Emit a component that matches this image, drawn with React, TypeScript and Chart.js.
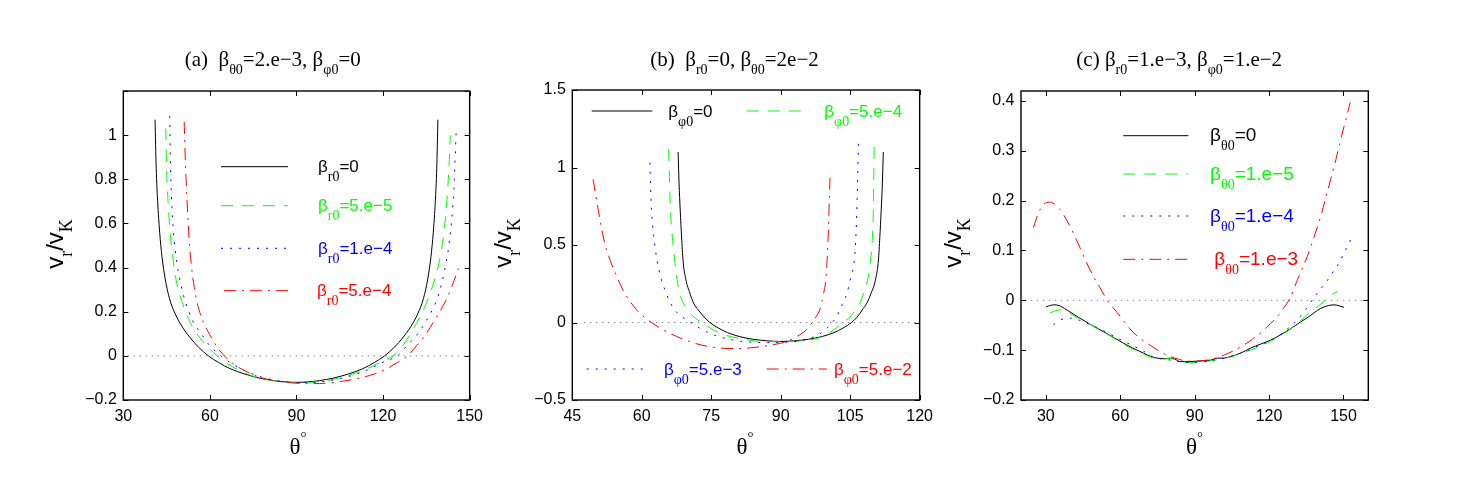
import React, { useEffect, useRef } from 'react';
import { Chart, registerables } from 'chart.js';

Chart.register(...registerables);

const SANS = '"Liberation Sans", Arial, Helvetica, sans-serif';
const SERIF = '"Liberation Serif", "Times New Roman", Times, serif';

// ---------- (a) beta_theta0 = 2.e-3, beta_phi0 = 0 ----------
const aBlackTheta = [41.0, 41.4, 41.9, 42.6, 43.4, 44.5, 46.0, 48.0, 50.5, 53.0, 56.0, 59.5, 63, 67, 72, 77, 82, 86, 90, 94, 98, 103, 108, 113, 117, 120.5, 124, 127, 129.5, 132, 134, 135.5, 136.6, 137.4, 138.1, 138.6, 139.0];
const aBlackV = [1.07, 0.85, 0.70, 0.56, 0.45, 0.35, 0.26, 0.19, 0.13, 0.085, 0.04, 0.0, -0.03, -0.058, -0.082, -0.1, -0.112, -0.118, -0.12, -0.118, -0.112, -0.1, -0.082, -0.058, -0.03, 0.0, 0.04, 0.085, 0.13, 0.19, 0.26, 0.35, 0.45, 0.56, 0.70, 0.85, 1.07];
const aGreenTheta = [44.7, 45.0, 45.5, 46.3, 47.3, 48.5, 50.2, 52.5, 55.5, 58.5, 62.5, 66, 70, 75, 80, 85, 90, 95, 100, 105, 110, 115, 119.5, 123.5, 126.5, 129.5, 132.5, 135, 137, 139, 140.8, 142.1, 142.8, 143.3];
const aGreenV = [1.03, 0.85, 0.70, 0.55, 0.43, 0.33, 0.25, 0.17, 0.1, 0.05, 0.0, -0.035, -0.065, -0.092, -0.108, -0.117, -0.121, -0.12, -0.113, -0.1, -0.08, -0.055, -0.025, 0.0, 0.04, 0.1, 0.17, 0.24, 0.31, 0.40, 0.53, 0.70, 0.85, 1.0];
const aBlueTheta = [46.1, 46.3, 46.7, 47.4, 48.6, 50, 51.5, 54, 57, 60, 63.8, 67, 71, 76, 81, 86, 91, 96, 101, 106, 111, 116, 120.5, 125, 128.5, 132, 135, 137.5, 139.3, 141.2, 142.8, 144, 144.7, 145.3];
const aBlueV = [1.086, 0.9, 0.72, 0.56, 0.42, 0.32, 0.245, 0.16, 0.1, 0.045, 0.0, -0.03, -0.06, -0.088, -0.106, -0.117, -0.121, -0.12, -0.113, -0.1, -0.082, -0.055, -0.025, 0.0, 0.05, 0.1, 0.16, 0.22, 0.28, 0.38, 0.5, 0.65, 0.8, 1.01];
const aRedTheta = [51.1, 51.5, 52.1, 52.8, 53.5, 54.6, 55.6, 57.5, 60, 62.5, 65, 68.5, 72.5, 77, 82, 88, 94, 100, 106, 112, 117, 121, 125, 128.6, 131.5, 134.9, 138, 141.8, 144, 146.1];
const aRedV = [1.06, 0.88, 0.70, 0.53, 0.42, 0.31, 0.24, 0.16, 0.095, 0.04, 0.0, -0.04, -0.07, -0.095, -0.112, -0.122, -0.126, -0.124, -0.115, -0.1, -0.082, -0.06, -0.03, 0.0, 0.045, 0.1, 0.165, 0.252, 0.32, 0.396];
const aZeroTheta = [31.5, 150];

// ---------- (b) beta_r0 = 0, beta_theta0 = 2e-2 ----------
const bBlackTheta = [67.85, 68.05, 68.3, 68.6, 68.9, 69.5, 70.4, 71.2, 72.2, 73.5, 74.7, 76.5, 78.5, 81, 84, 87, 90, 93, 96, 99, 101.5, 103.5, 105.3, 106.5, 107.6, 108.6, 109.5, 110.5, 111.1, 111.4, 111.7, 111.95, 112.15];
const bBlackV = [1.10, 0.9, 0.726, 0.55, 0.403, 0.28, 0.188, 0.125, 0.081, 0.035, 0.0, -0.035, -0.065, -0.09, -0.108, -0.118, -0.122, -0.118, -0.108, -0.09, -0.065, -0.035, 0.0, 0.035, 0.081, 0.125, 0.188, 0.28, 0.403, 0.55, 0.726, 0.9, 1.10];
const bGreenTheta = [65.8, 66.0, 66.2, 66.6, 67.1, 67.6, 68.2, 69, 70, 71.3, 72.9, 75, 77.5, 80.5, 84, 87.5, 90.5, 94, 97, 99.5, 101.6, 103.4, 104.9, 106.2, 107.1, 107.9, 108.8, 109.4, 109.8, 110.0, 110.1, 110.2];
const bGreenV = [1.117, 0.9, 0.726, 0.55, 0.403, 0.28, 0.188, 0.125, 0.081, 0.035, 0.0, -0.04, -0.075, -0.1, -0.117, -0.124, -0.125, -0.12, -0.108, -0.085, -0.045, 0.0, 0.035, 0.081, 0.125, 0.188, 0.28, 0.403, 0.55, 0.726, 0.95, 1.188];
const bBlueTheta = [61.75, 61.9, 62.1, 62.6, 63.3, 64.2, 65.3, 66.2, 67.1, 68.8, 70.6, 73, 76, 79.5, 83, 87, 90.5, 94, 97, 99.3, 101.1, 102.1, 102.7, 103.5, 104.3, 105.2, 105.9, 106.3, 106.5, 106.8];
const bBlueV = [1.031, 0.88, 0.726, 0.55, 0.403, 0.28, 0.188, 0.125, 0.081, 0.035, 0.0, -0.045, -0.085, -0.112, -0.126, -0.13, -0.128, -0.118, -0.095, -0.055, 0.0, 0.04, 0.081, 0.13, 0.188, 0.3, 0.403, 0.6, 0.8, 1.177];
const bRedTheta = [49.5, 50.6, 52.0, 53.2, 54.6, 56.5, 58.9, 60.5, 62.1, 64.5, 67.5, 71, 75, 79, 83, 88, 91, 93.5, 95.5, 96.8, 97.7, 98.4, 99.2, 99.8, 100.1, 100.3, 100.5, 100.7];
const bRedV = [0.924, 0.726, 0.511, 0.4, 0.296, 0.18, 0.081, 0.035, 0.0, -0.045, -0.09, -0.13, -0.158, -0.168, -0.165, -0.145, -0.125, -0.09, -0.048, 0.0, 0.04, 0.081, 0.18, 0.296, 0.45, 0.6, 0.8, 0.973];
const bZeroTheta = [47.5, 120];

// ---------- (c) beta_r0 = 1.e-3, beta_phi0 = 1.e-2 ----------
const cBlackTheta = [30.1, 32, 33.7, 36, 39, 43.8, 48.5, 53.3, 57.5, 61.3, 65.5, 69.4, 72.5, 75, 78, 80.2, 82, 84.2, 87, 90.9, 94, 96.4, 99.1, 101.5, 104.4, 108.5, 112.5, 116.5, 120.6, 124.7, 128.7, 132.8, 136.8, 139.5, 142.1, 144, 146.2, 148.3, 150.2];
const cBlackV = [-0.0135, -0.01, -0.009, -0.012, -0.021, -0.036, -0.05, -0.063, -0.075, -0.086, -0.097, -0.106, -0.113, -0.116, -0.117, -0.116, -0.118, -0.123, -0.123, -0.122, -0.121, -0.12, -0.116, -0.116, -0.113, -0.106, -0.096, -0.088, -0.08, -0.069, -0.057, -0.043, -0.03, -0.02, -0.0135, -0.0105, -0.009, -0.011, -0.014];
const cGreenTheta = [31.7, 33.5, 35.8, 38, 41, 44, 48.5, 53.3, 57.5, 61.3, 65.5, 69.4, 73, 77, 80.2, 84, 88, 92, 96, 100, 104.4, 108.5, 112.5, 116.5, 120.6, 124.7, 128.7, 132.8, 136.8, 140.8, 144.2, 147.6];
const cGreenV = [-0.026, -0.022, -0.019, -0.022, -0.03, -0.038, -0.05, -0.064, -0.076, -0.088, -0.099, -0.108, -0.115, -0.118, -0.117, -0.122, -0.125, -0.124, -0.122, -0.118, -0.114, -0.107, -0.1, -0.092, -0.082, -0.07, -0.058, -0.04, -0.022, -0.008, 0.008, 0.018];
const cBlueTheta = [33.1, 35, 37.1, 40, 43.5, 48, 53.3, 57.5, 61.3, 65.5, 69.4, 73, 77, 80.5, 84, 88, 92, 96, 100, 104.4, 108.5, 112.5, 116.5, 120.6, 124.7, 128, 131.4, 134.5, 137.4, 140, 142.8, 145.5, 148.2, 150.5, 152.9];
const cBlueV = [-0.049, -0.042, -0.037, -0.036, -0.04, -0.049, -0.061, -0.072, -0.082, -0.092, -0.102, -0.113, -0.118, -0.12, -0.123, -0.125, -0.124, -0.121, -0.118, -0.113, -0.106, -0.098, -0.09, -0.08, -0.068, -0.055, -0.039, -0.02, 0.001, 0.018, 0.035, 0.055, 0.075, 0.098, 0.122];
const cRedTheta = [25.0, 27, 29.3, 31.4, 33.5, 35.8, 38.5, 41.1, 43.8, 46.5, 49.2, 51.9, 54.6, 57.3, 60, 63, 66, 70.8, 75.5, 80.2, 83.5, 86.9, 91, 95, 98.5, 101.7, 105.8, 109.8, 113.8, 117.9, 120.5, 123.3, 125.8, 128.3, 131.5, 135.4, 138, 140.8, 142.8, 144.8, 146.9, 148.9, 150.8, 152.7];
const cRedV = [0.146, 0.175, 0.193, 0.197, 0.193, 0.182, 0.16, 0.135, 0.105, 0.075, 0.048, 0.025, 0.001, -0.016, -0.032, -0.052, -0.068, -0.086, -0.101, -0.113, -0.118, -0.122, -0.122, -0.12, -0.116, -0.11, -0.101, -0.09, -0.076, -0.06, -0.047, -0.033, -0.016, 0.003, 0.042, 0.088, 0.125, 0.168, 0.205, 0.242, 0.282, 0.323, 0.36, 0.397];
const cZeroTheta = [21.5, 159.5];

// axis ranges and tick steps
const aXTicks = { min: 30, max: 150, step: 30 };
const aYTicks = { min: -0.2, max: 1.2, step: 0.2, lastLabel: 1.0 };
const bXTicks = { min: 45, max: 120, step: 15 };
const bYTicks = { min: -0.5, max: 1.5, step: 0.5, lastLabel: 1.5 };
const cXTicks = { min: 20, max: 160, step: 30 };
const cYTicks = { min: -0.2, max: 0.42, step: 0.1, lastLabel: 0.4 };

type Seg = { t: string; f: string; dy?: number };
type StyleKey = 'black' | 'green' | 'blue' | 'red';

const STYLES: Record<StyleKey, { color: string; dash: number[] }> = {
  black: { color: '#000000', dash: [] },
  green: { color: '#00ff00', dash: [12, 9] },
  blue: { color: '#0000ff', dash: [2, 7] },
  red: { color: '#ff0000', dash: [12, 6, 2, 6] },
};

const px = (size: number, family: string) => `${size}px ${family}`;

function richWidth(ctx: CanvasRenderingContext2D, segs: Seg[]) {
  let w = 0;
  for (const s of segs) {
    ctx.font = s.f;
    w += ctx.measureText(s.t).width;
  }
  return w;
}

function drawRich(
  ctx: CanvasRenderingContext2D,
  segs: Seg[],
  x: number,
  y: number,
  align: 'left' | 'center',
  color: string
) {
  ctx.save();
  ctx.fillStyle = color;
  ctx.textBaseline = 'alphabetic';
  ctx.textAlign = 'left';
  let cx = align === 'center' ? x - richWidth(ctx, segs) / 2 : x;
  for (const s of segs) {
    ctx.font = s.f;
    ctx.fillText(s.t, cx, y + (s.dy || 0));
    cx += ctx.measureText(s.t).width;
  }
  ctx.restore();
}

// "beta_sub=value" legend label
function betaLabel(sub: string, value: string, size: number): Seg[] {
  return [
    { t: 'β', f: px(size, SANS) },
    { t: sub, f: px(14, SERIF), dy: 9 },
    { t: value, f: px(size, SANS) },
  ];
}

const TITLE = 21;
const TSUB = 14;
const titleA: Seg[] = [
  { t: '(a)  β', f: px(TITLE, SERIF) },
  { t: 'θ0', f: px(TSUB, SERIF), dy: 8 },
  { t: '=2.e−3, β', f: px(TITLE, SERIF) },
  { t: 'φ0', f: px(TSUB, SERIF), dy: 8 },
  { t: '=0', f: px(TITLE, SERIF) },
];
const titleB: Seg[] = [
  { t: '(b)  β', f: px(TITLE, SERIF) },
  { t: 'r0', f: px(TSUB, SERIF), dy: 8 },
  { t: '=0, β', f: px(TITLE, SERIF) },
  { t: 'θ0', f: px(TSUB, SERIF), dy: 8 },
  { t: '=2e−2', f: px(TITLE, SERIF) },
];
const titleC: Seg[] = [
  { t: '(c) β', f: px(TITLE, SERIF) },
  { t: 'r0', f: px(TSUB, SERIF), dy: 8 },
  { t: '=1.e−3, β', f: px(TITLE, SERIF) },
  { t: 'φ0', f: px(TSUB, SERIF), dy: 8 },
  { t: '=1.e−2', f: px(TITLE, SERIF) },
];

const yLabel: Seg[] = [
  { t: 'v', f: px(24, SANS) },
  { t: 'r', f: px(18, SERIF), dy: 9 },
  { t: '/v', f: px(24, SANS) },
  { t: 'K', f: px(18, SERIF), dy: 9 },
];
const xLabel: Seg[] = [
  { t: 'θ', f: px(23, SERIF) },
  { t: '°', f: px(15, SERIF), dy: -12 },
];

interface LegendItem { style: StyleKey; text: Seg[]; x0: number; x1: number; tx: number; y: number }
interface Series { theta: number[]; v: number[]; style: StyleKey }
interface Panel {
  left: number;
  width: number;
  area: { l: number; r: number; t: number; b: number };
  xt: { min: number; max: number; step: number };
  yt: { min: number; max: number; step: number; lastLabel: number };
  title: Seg[];
  titleX: number;
  yLab: { x: number; y: number };
  xLabX: number;
  legend: LegendItem[];
  series: Series[];
  zero: number[];
}

const PANELS: Panel[] = [
  {
    left: 0,
    width: 490,
    area: { l: 123.3, r: 472.3, t: 91, b: 400 },
    xt: aXTicks,
    yt: aYTicks,
    title: titleA,
    titleX: 272.7,
    yLab: { x: 62.5, y: 244 },
    xLabX: 298,
    legend: [
      { style: 'black', text: betaLabel('r0', '=0', 17), x0: 221, x1: 288, tx: 318, y: 166.7 },
      { style: 'green', text: betaLabel('r0', '=5.e−5', 17), x0: 221, x1: 288, tx: 318, y: 205.7 },
      { style: 'blue', text: betaLabel('r0', '=1.e−4', 17), x0: 221, x1: 288, tx: 318, y: 248.3 },
      { style: 'red', text: betaLabel('r0', '=5.e−4', 17), x0: 224, x1: 288, tx: 317, y: 290.7 },
    ],
    series: [
      { theta: aBlackTheta, v: aBlackV, style: 'black' },
      { theta: aGreenTheta, v: aGreenV, style: 'green' },
      { theta: aBlueTheta, v: aBlueV, style: 'blue' },
      { theta: aRedTheta, v: aRedV, style: 'red' },
    ],
    zero: aZeroTheta,
  },
  {
    left: 490,
    width: 450,
    area: { l: 572.3, r: 920.3, t: 90, b: 400 },
    xt: bXTicks,
    yt: bYTicks,
    title: titleB,
    titleX: 734.5,
    yLab: { x: 511, y: 243 },
    xLabX: 745,
    legend: [
      { style: 'black', text: betaLabel('φ0', '=0', 17), x0: 591.7, x1: 652.3, tx: 668.3, y: 111 },
      { style: 'green', text: betaLabel('φ0', '=5.e−4', 17), x0: 746.7, x1: 810, tx: 824.3, y: 111 },
      { style: 'blue', text: betaLabel('φ0', '=5.e−3', 17), x0: 586.7, x1: 646.7, tx: 664, y: 369 },
      { style: 'red', text: betaLabel('φ0', '=5.e−2', 17), x0: 766.7, x1: 826.7, tx: 834, y: 369 },
    ],
    series: [
      { theta: bBlackTheta, v: bBlackV, style: 'black' },
      { theta: bGreenTheta, v: bGreenV, style: 'green' },
      { theta: bBlueTheta, v: bBlueV, style: 'blue' },
      { theta: bRedTheta, v: bRedV, style: 'red' },
    ],
    zero: bZeroTheta,
  },
  {
    left: 940,
    width: 531,
    area: { l: 1021, r: 1368.3, t: 91, b: 400 },
    xt: cXTicks,
    yt: cYTicks,
    title: titleC,
    titleX: 1179.2,
    yLab: { x: 961, y: 243 },
    xLabX: 1194.5,
    legend: [
      { style: 'black', text: betaLabel('θ0', '=0', 19), x0: 1123.3, x1: 1188.3, tx: 1210, y: 135.7 },
      { style: 'green', text: betaLabel('θ0', '=1.e−5', 19), x0: 1123.3, x1: 1188.3, tx: 1210, y: 174 },
      { style: 'blue', text: betaLabel('θ0', '=1.e−4', 19), x0: 1123.3, x1: 1188.3, tx: 1210, y: 216 },
      { style: 'red', text: betaLabel('θ0', '=1.e−3', 19), x0: 1123.3, x1: 1188.3, tx: 1214.3, y: 259.3 },
    ],
    series: [
      { theta: cBlackTheta, v: cBlackV, style: 'black' },
      { theta: cGreenTheta, v: cGreenV, style: 'green' },
      { theta: cBlueTheta, v: cBlueV, style: 'blue' },
      { theta: cRedTheta, v: cRedV, style: 'red' },
    ],
    zero: cZeroTheta,
  },
];

const fmtTick = (v: number) => String(Math.round(v * 100) / 100).replace('-', '−');

function decorations(p: Panel) {
  return {
    id: 'panelDecor',
    afterDraw(chart: any) {
      const ctx: CanvasRenderingContext2D = chart.ctx;
      const { left, right, top, bottom } = chart.chartArea;
      const xs = chart.scales.x;
      const ys = chart.scales.y;
      const L = 5;
      ctx.save();
      // inward tick marks on all four sides
      ctx.strokeStyle = '#000';
      ctx.lineWidth = 1;
      ctx.setLineDash([]);
      ctx.beginPath();
      for (const t of xs.ticks) {
        const x = Math.round(xs.getPixelForValue(t.value)) + 0.5;
        ctx.moveTo(x, bottom);
        ctx.lineTo(x, bottom - L);
        ctx.moveTo(x, top);
        ctx.lineTo(x, top + L);
      }
      for (const t of ys.ticks) {
        const y = Math.round(ys.getPixelForValue(t.value)) + 0.5;
        ctx.moveTo(left, y);
        ctx.lineTo(left + L, y);
        ctx.moveTo(right, y);
        ctx.lineTo(right - L, y);
      }
      ctx.stroke();
      // frame
      ctx.lineWidth = 1.4;
      ctx.strokeRect(left, top, right - left, bottom - top);

      // legend entries
      for (const item of p.legend) {
        const st = STYLES[item.style];
        ctx.strokeStyle = st.color;
        ctx.lineWidth = 1;
        ctx.setLineDash(st.dash);
        ctx.beginPath();
        ctx.moveTo(item.x0 - p.left, item.y);
        ctx.lineTo(item.x1 - p.left, item.y);
        ctx.stroke();
        ctx.setLineDash([]);
        drawRich(ctx, item.text, item.tx - p.left, item.y + 5.5, 'left', st.color);
      }

      // title
      drawRich(ctx, p.title, p.titleX - p.left, 66, 'center', '#000');
      // x label
      drawRich(ctx, xLabel, p.xLabX - p.left, 454, 'center', '#000');
      // y label (rotated)
      ctx.save();
      ctx.translate(p.yLab.x - p.left, p.yLab.y);
      ctx.rotate(-Math.PI / 2);
      drawRich(ctx, yLabel, 0, 0, 'center', '#000');
      ctx.restore();
      ctx.restore();
    },
  };
}

function PanelChart({ p }: { p: Panel }) {
  const ref = useRef<HTMLCanvasElement | null>(null);
  useEffect(() => {
    if (!ref.current) return;
    const datasets: any[] = [
      {
        data: p.zero.map((t) => ({ x: t, y: 0 })),
        borderColor: '#8c8c8c',
        borderDash: [1.5, 4.5],
        borderWidth: 1,
        pointRadius: 0,
        fill: false,
        order: 10,
      },
      ...p.series.map((s, i) => ({
        data: s.theta.map((t, k) => ({ x: t, y: s.v[k] })),
        borderColor: STYLES[s.style].color,
        borderDash: STYLES[s.style].dash,
        borderWidth: 1,
        pointRadius: 0,
        fill: false,
        cubicInterpolationMode: 'monotone',
        order: 4 - i,
      })),
    ];
    const tickFont = { family: SANS, size: 16 };
    const chart = new Chart(ref.current, {
      type: 'line',
      data: { datasets },
      options: {
        responsive: false,
        animation: false,
        devicePixelRatio: 1,
        layout: {
          padding: { left: 0, top: p.area.t, right: p.width - (p.area.r - p.left), bottom: 0 },
        },
        plugins: { legend: { display: false }, tooltip: { enabled: false } },
        elements: { point: { radius: 0 } },
        scales: {
          x: {
            type: 'linear',
            min: p.xt.min,
            max: p.xt.max,
            afterFit: (s: any) => {
              s.height = 494 - p.area.b;
            },
            grid: { display: false, drawTicks: false },
            border: { display: false },
            ticks: {
              stepSize: p.xt.step,
              includeBounds: false,
              autoSkip: false,
              maxRotation: 0,
              padding: 7,
              color: '#000',
              font: tickFont,
              callback: (v: any) => fmtTick(Number(v)),
            },
          },
          y: {
            type: 'linear',
            min: p.yt.min,
            max: p.yt.max,
            afterFit: (s: any) => {
              s.width = p.area.l - p.left;
            },
            grid: { display: false, drawTicks: false },
            border: { display: false },
            ticks: {
              stepSize: p.yt.step,
              includeBounds: false,
              autoSkip: false,
              padding: 6.5,
              color: '#000',
              font: tickFont,
              callback: (v: any) => (Number(v) > p.yt.lastLabel + 1e-6 ? '' : fmtTick(Number(v))),
            },
          },
        },
      } as any,
      plugins: [decorations(p)],
    });
    return () => chart.destroy();
  }, [p]);
  return (
    <canvas
      ref={ref}
      width={p.width}
      height={494}
      style={{ position: 'absolute', left: p.left, top: 0, width: p.width, height: 494 }}
    />
  );
}

export default function App() {
  return (
    <div
      style={{
        position: 'absolute',
        left: 0,
        top: 0,
        width: 1471,
        height: 494,
        background: '#ffffff',
        overflow: 'hidden',
      }}
    >
      {PANELS.map((p, i) => (
        <PanelChart key={i} p={p} />
      ))}
    </div>
  );
}
